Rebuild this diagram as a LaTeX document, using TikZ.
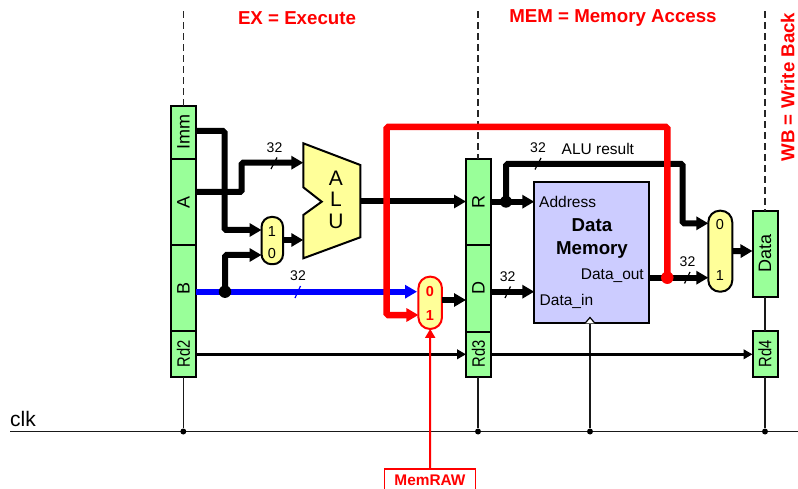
\documentclass[tikz,border=0pt]{standalone}
\usepackage{fontspec}
\setmainfont{Liberation Sans}
\usetikzlibrary{arrows.meta}
\newcommand{\fsz}[1]{\fontsize{#1}{#1}\selectfont}
\newcommand{\rdtxt}[1]{\rotatebox{90}{\scalebox{.82}[1]{#1}}}
\definecolor{regfill}{HTML}{99FF99}
\definecolor{muxfill}{HTML}{FFFF99}
\definecolor{memfill}{HTML}{CCCCFF}
\tikzset{
 regbox/.style={draw=black,line width=2pt,fill=regfill,minimum width=25pt,inner sep=0pt,font=\fsz{18},outer sep=0pt},
 muxbox/.style={draw=black,line width=2pt,fill=muxfill,rounded corners=10pt,minimum width=21.5pt,inner sep=0pt,outer sep=0pt},
 muxtxt/.style={font=\fsz{14.5},inner sep=0pt},
 bus/.style={line width=6pt,rounded corners=1.5pt,-{Triangle[length=12pt,width=13pt]}},
 plainbus/.style={line width=6pt,rounded corners=1.5pt},
 thinwire/.style={line width=2.8pt,-{Triangle[length=9pt,width=9.5pt]}},
 clockw/.style={line width=1.6pt,draw=black!90},
 dashw/.style={line width=1.6pt,draw=black!85,dash pattern=on 7pt off 4pt},
 redbus/.style={bus,red},
 bluebus/.style={bus,blue},
 slash/.style={line width=1.2pt},
 lab/.style={font=\fsz{14},inner sep=0pt},
 wtxt/.style={font=\fsz{15.5},inner sep=0pt},
 headtxt/.style={font=\bfseries\fsz{18.7},text=red,inner sep=0pt},
 jdot/.style={circle,fill=black,inner sep=0pt},
}
\begin{document}
\begin{tikzpicture}[x=1pt,y=-1pt]
\useasboundingbox (0,0) rectangle (798,489);
% headings
\node[headtxt] (hex) at (297,18) {EX = Execute};
\node[headtxt] (hmem) at (613,18) {MEM = Memory Access};
\node[headtxt,rotate=90] (hwb) at (787.8,87) {WB = Write Back};
% clock
\node[font=\fsz{21},inner sep=0pt,anchor=base west] (clk) at (10,426) {clk};
\coordinate (cl) at (10,431.5); \coordinate (cr) at (798,431.5);
\draw[clockw] (cl) -- (cr);
% registers
\node[regbox,minimum height=53.3pt,anchor=north west] (imm) at (171,105.7) {\rotatebox{90}{Imm}};
\node[regbox,minimum height=86pt,anchor=north west] (a) at (171,159) {\rotatebox{90}{A}};
\node[regbox,minimum height=86pt,anchor=north west] (b) at (171,245) {\rotatebox{90}{B}};
\node[regbox,minimum height=45.7pt,anchor=north west] (rd2) at (171,331) {\rdtxt{Rd2}};
\node[regbox,minimum height=86pt,anchor=north west] (r) at (466,159) {\rotatebox{90}{R}};
\node[regbox,minimum height=86.5pt,anchor=north west] (d) at (466,245) {\rotatebox{90}{D}};
\node[regbox,minimum height=45.2pt,anchor=north west] (rd3) at (466,331.5) {\rdtxt{Rd3}};
\node[regbox,minimum height=86.3pt,anchor=north west] (data) at (752.5,210.7) {\rotatebox{90}{Data}};
\node[regbox,minimum height=45.4pt,anchor=north west] (rd4) at (752.5,331.3) {\rdtxt{Rd4}};
% dashed pipeline marks and clock stubs
\coordinate (t1) at (183.3,11.5); \coordinate (t2) at (478,11.5); \coordinate (t3) at (765,11.5);
\draw[dashw] (t1) -- (t1|-imm.north);
\draw[dashw] (t2) -- (t2|-r.north);
\draw[dashw] (t3) -- (t3|-data.north);
\node[jdot,minimum size=6pt] (c1) at (183.3,431.5) {};
\node[jdot,minimum size=6pt] (c2) at (478,431.5) {};
\node[jdot,minimum size=6pt] (c3) at (590,431.5) {};
\node[jdot,minimum size=6pt] (c4) at (765,431.5) {};
\draw[clockw] (c1|-rd2.south) -- (c1);
\draw[clockw] (c2|-rd3.south) -- (c2);
\draw[clockw] (data.south) -- (rd4.north);
\draw[clockw] (rd4.south) -- (c4);
% ALU
\draw[draw=black,line width=2pt,fill=muxfill,line join=miter] (303.3,143.3) -- (360.3,165) -- (360.3,237.3) -- (303.3,258.3) -- (303.3,215) -- (321.7,201.7) -- (303.3,187.3) -- cycle;
\node[font=\fsz{21},align=center,inner sep=0pt] (alu) at (336,199.5) {A\\[0.5pt]L\\[0.5pt]U};
\coordinate (aluA) at (303.3,162.7); \coordinate (aluB) at (303.3,240); \coordinate (aluO) at (360.3,201.5);
% muxes
\node[muxbox,minimum height=47.3pt] (m1) at (272.3,240.6) {};
\node[muxtxt] (m1a) at (272,231.5) {1};
\node[muxtxt] (m1b) at (272,253.5) {0};
\node[muxbox,minimum height=81pt,minimum width=24pt,rounded corners=11.5pt] (m3) at (720.3,251.2) {};
\node[muxtxt] (m3a) at (720,225) {0};
\node[muxtxt] (m3b) at (720,276) {1};
% memory
\node[draw=black,line width=2pt,fill=memfill,minimum width=115pt,minimum height=141pt,anchor=north west,inner sep=0pt,outer sep=0pt] (mem) at (534.3,182.3) {};
\node[wtxt,anchor=west] (mAddr) at (539,201.5) {Address};
\node[font=\bfseries\fsz{18.7},align=center,inner sep=0pt] (mTitle) at (592,238.5) {Data\\[3.5pt]Memory};
\node[wtxt,anchor=east] (mOut) at (644,275.5) {Data\_out};
\node[wtxt,anchor=west] (mIn) at (539.5,301) {Data\_in};
\coordinate (tri) at (590,317.5);
\draw[clockw] (c3) -- (590,323);
\draw[line width=1.2pt,fill=white] (585,323.3) -- (tri) -- (595,323.3);
% wires
\draw[bus] (imm.east|-0,131) -| (224.5,230) -- (m1.west|-0,230);
\draw[bus] (a.east|-0,192) -| (241.7,162.7) -- (aluA);
\draw[bus] (m1.east|-0,240) -- (aluB);
\draw[bus] (225,291.7) |- (m1.west|-0,255);
\draw[bus] (aluO) -- (r.west|-0,201.5);
\draw[thinwire] (rd2.east|-0,354.3) -- (rd3.west|-0,354.3);
\draw[thinwire] (rd3.east|-0,354.3) -- (rd4.west|-0,354.3);
\draw[bus] (r.east|-0,201.7) -- (mem.west|-0,201.7);
\draw[plainbus,-{Triangle[length=12pt,width=13pt]}] (506,201.7) |- (682.7,164) |- (m3.west|-0,223.3);
\node[jdot,minimum size=12pt] (j2) at (506,201.7) {};
\draw[bus] (d.east|-0,291.7) -- (mem.west|-0,291.7);
\draw[bus] (mem.east|-0,277.7) -- (m3.west|-0,277.7);
\draw[bus] (m3.east) -- (data.west|-0,251);
% red mux (drawn with the red path on top)
\draw[bluebus] (b.east|-0,291.7) -- (417,291.7);
\node[jdot,minimum size=12.5pt] (j1) at (225,291.7) {};
\node[muxbox,draw=red,minimum height=52.3pt,minimum width=23.5pt,rounded corners=11.5pt] (m2) at (430.2,302.8) {};
\node[font=\bfseries\fsz{14.5},text=red,inner sep=0pt] (m2a) at (430,292) {0};
\node[font=\bfseries\fsz{14.5},text=red,inner sep=0pt] (m2b) at (430,316) {1};
\draw[bus] (m2.east|-0,300) -- (d.west|-0,300);
\draw[redbus,line width=6.5pt] (667.3,277.7) |- (386.7,127) |- (m2.west|-0,315);
\node[circle,fill=red,inner sep=0pt,minimum size=12.5pt] (j3) at (667.3,277.7) {};
% control
\coordinate (mrTop) at (430,469);
\draw[red,line width=1.2pt] (384.5,489) -- (384.5,469) -- (475.5,469) -- (475.5,489);
\node[font=\bfseries\fsz{15.4},text=red,inner sep=0pt] (mraw) at (430,480.5) {MemRAW};
\draw[red,line width=2pt,-{Triangle[length=9pt,width=10pt]}] (mrTop) -- (m2.south);
% bus width marks
\draw[slash] (271,169) -- (277,157.5); \node[lab] (w1) at (274.5,148) {32};
\draw[slash,blue] (295,298) -- (300.5,286); \node[lab] (w2) at (298,276) {32};
\draw[slash] (535,169.5) -- (541,158); \node[lab] (w3) at (538,147.5) {32};
\draw[slash] (505,298) -- (510.5,286.5); \node[lab] (w4) at (507.7,277) {32};
\draw[slash] (684.5,283.5) -- (690,272); \node[lab] (w5) at (687.5,261.5) {32};
\node[wtxt,anchor=west] (res) at (561.5,148.5) {ALU result};
\end{tikzpicture}
\end{document}
